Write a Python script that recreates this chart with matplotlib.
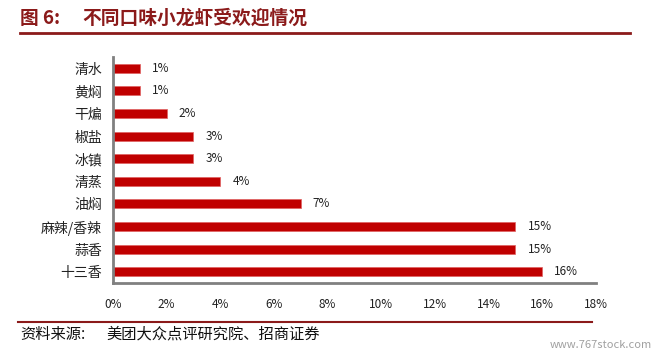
import matplotlib.pyplot as plt
import numpy as np

plt.rcParams['font.family'] = ['Noto Sans CJK SC', 'DejaVu Sans']

categories = ["清水", "黄焖", "干煸", "椒盐", "冰镇", "清蒸", "油焖", "麻辣/香辣", "蒜香", "十三香"]
shares = [1, 1, 2, 3, 3, 4, 7, 15, 15, 16]
xticks = [0, 2, 4, 6, 8, 10, 12, 14, 16, 18]

fig = plt.figure(figsize=(6.57, 3.54), dpi=100)
ax = fig.add_axes([0.172, 0.2006, 0.735, 0.6384])

index = np.arange(len(categories))
ax.barh(index, shares, height=0.4, color="#C00000", edgecolor="#E06060", linewidth=0.5)
for i, v in zip(index, shares):
    ax.text(v + 0.45, i, f"{v}%", va="center", ha="left", fontsize=8.5, color="#222222")

ax.set_ylim(9.5, -0.5)
ax.set_xlim(0, 18)
ax.set_yticks(index)
ax.set_yticklabels(categories, fontsize=10, color="#222222")
ax.set_xticks(xticks)
ax.set_xticklabels([f"{t}%" for t in xticks], fontsize=8.5, color="#222222")
ax.tick_params(axis="both", length=0)
ax.tick_params(axis="x", pad=11)
ax.tick_params(axis="y", pad=8)
for s in ["top", "right"]:
    ax.spines[s].set_visible(False)
for s in ["left", "bottom"]:
    ax.spines[s].set_color("#808080")
    ax.spines[s].set_linewidth(2)

# title and source
fig.text(20 / 657, 1 - 18 / 354, "图 6:", fontsize=13.5,
         fontweight="bold", color="#8B1A1A", va="center", ha="left")
fig.text(82 / 657, 1 - 18 / 354, "不同口味小龙虾受欢迎情况", fontsize=13.5,
         fontweight="bold", color="#8B1A1A", va="center", ha="left")
fig.add_artist(plt.Line2D([20 / 657, 630 / 657], [1 - 33 / 354, 1 - 33 / 354],
                          color="#8B1A1A", linewidth=2))
fig.add_artist(plt.Line2D([18 / 657, 592 / 657], [1 - 322 / 354, 1 - 322 / 354],
                          color="#8B1A1A", linewidth=1.5))
fig.text(20 / 657, 1 - 334 / 354, "资料来源:", fontsize=11,
         color="#111111", va="center", ha="left")
fig.text(106 / 657, 1 - 334 / 354, "美团大众点评研究院、招商证券", fontsize=11,
         color="#111111", va="center", ha="left")
fig.text(652 / 657, 1 - 345 / 354, "www.767stock.com", fontsize=8, color="#A0A0A0",
         va="center", ha="right")

fig.savefig("out.png", dpi=100)
